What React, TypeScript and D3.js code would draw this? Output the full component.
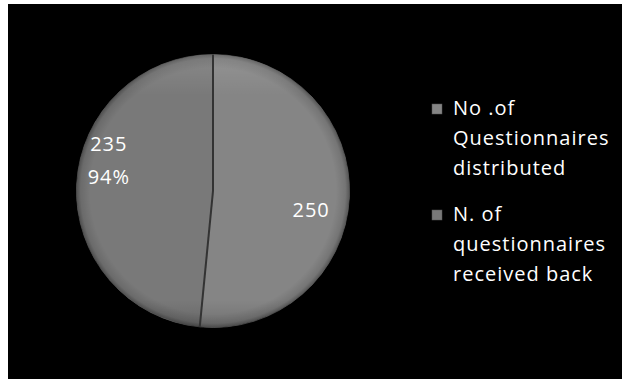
import React from "react";
import * as d3 from "d3";

const categories = ["No .of Questionnaires distributed", "N. of questionnaires received back"];
const values = [250, 235];
const legendLines = [
  ["No .of", "Questionnaires", "distributed"],
  ["N. of", "questionnaires", "received back"],
];
const sliceLabels = [["250"], ["235", "94%"]];
const sliceColors = ["#858585", "#797979"];

const W = 622;
const H = 381;
const FONT = "'Open Sans', Lato, sans-serif";

export default function App() {
  const cx = 213;
  const cy = 191;
  const r = 136.5;
  const pie = d3.pie<number>().sort(null).startAngle(0).endAngle(2 * Math.PI);
  const arcs = pie(values);
  const arc = d3.arc<d3.PieArcDatum<number>>().innerRadius(0).outerRadius(r);
  const labelArc = d3.arc<d3.PieArcDatum<number>>().innerRadius(r * 0.72).outerRadius(r * 0.72);
  const labelShift = [
    [0, 14],
    [-6, -26],
  ];

  return (
    <svg
      width={W}
      height={H}
      style={{ position: "absolute", left: 0, top: 0, display: "block", fontVariantLigatures: "none" }}
    >
      <defs>
        <radialGradient id="shade" cx="0.5" cy="0.5" r="0.5">
          <stop offset="0.9" stopColor="#000" stopOpacity="0" />
          <stop offset="0.97" stopColor="#000" stopOpacity="0.12" />
          <stop offset="1" stopColor="#000" stopOpacity="0.35" />
        </radialGradient>
        <linearGradient id="topLight" x1="0" y1="0" x2="0" y2="1">
          <stop offset="0" stopColor="#fff" stopOpacity="0.12" />
          <stop offset="0.15" stopColor="#fff" stopOpacity="0" />
          <stop offset="0.9" stopColor="#000" stopOpacity="0" />
          <stop offset="1" stopColor="#000" stopOpacity="0.15" />
        </linearGradient>
      </defs>
      <rect x={0} y={0} width={W} height={H} fill="#ffffff" />
      <rect x={8} y={4} width={614} height={375} fill="#000000" />
      <g transform={`translate(${cx},${cy})`}>
        {arcs.map((a, i) => (
          <path key={i} d={arc(a) || ""} fill={sliceColors[i]} stroke={sliceColors[i]} strokeWidth={0.5} />
        ))}
        <circle r={r} fill="url(#shade)" />
        <circle r={r} fill="url(#topLight)" />
        {arcs.map((a, i) => (
          <line
            key={"d" + i}
            x1={0}
            y1={0}
            x2={r * Math.sin(a.startAngle)}
            y2={-r * Math.cos(a.startAngle)}
            stroke="#333333"
            strokeWidth={2}
          />
        ))}
        {arcs.map((a, i) => {
          const [lx, ly] = labelArc.centroid(a);
          const lines = sliceLabels[i];
          const lh = 33;
          return (
            <text
              key={i}
              x={lx + labelShift[i][0]}
              y={ly + labelShift[i][1]}
              fill="#ffffff"
              fontFamily={FONT}
              fontSize={20}
              letterSpacing={1}
              textAnchor="middle"
            >
              {lines.map((t, j) => (
                <tspan key={j} x={lx + labelShift[i][0]} dy={j === 0 ? -((lines.length - 1) * lh) / 2 + 7 : lh}>
                  {t}
                </tspan>
              ))}
            </text>
          );
        })}
      </g>
      <g>
        {categories.map((c, i) => {
          const y0 = 115 + i * 106;
          return (
            <g key={c}>
              <rect x={432} y={y0 - 11} width={10} height={10} fill={sliceColors[i]} stroke="#555" strokeWidth={0.5} />
              <text fill="#ffffff" fontFamily={FONT} fontSize={20} letterSpacing={1}>
                {legendLines[i].map((t, j) => (
                  <tspan key={j} x={453} y={y0 + j * 30}>
                    {t}
                  </tspan>
                ))}
              </text>
            </g>
          );
        })}
      </g>
    </svg>
  );
}
